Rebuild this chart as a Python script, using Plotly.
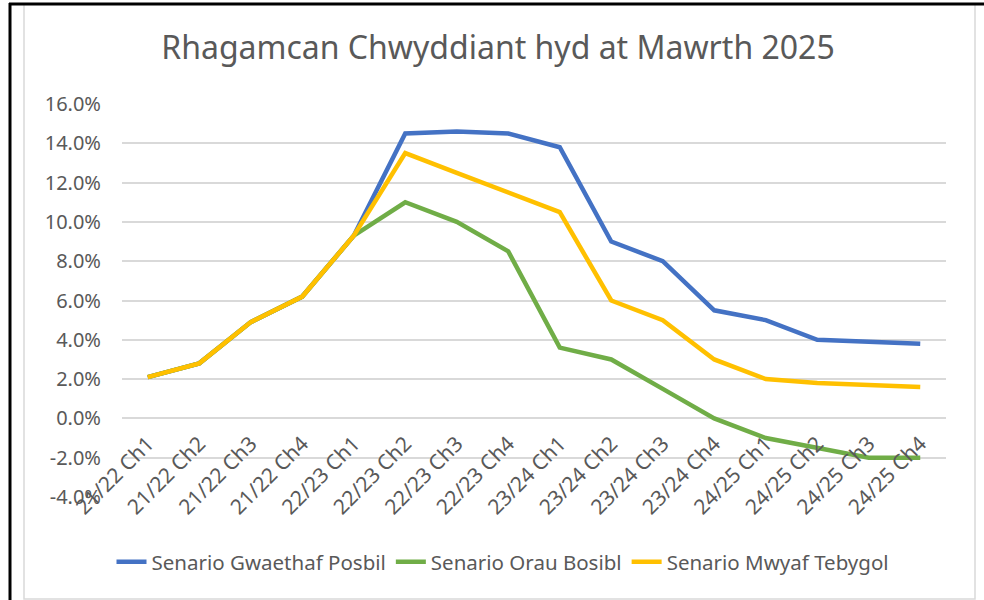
import plotly.graph_objects as go

categories = ["21/22 Ch1", "21/22 Ch2", "21/22 Ch3", "21/22 Ch4",
              "22/23 Ch1", "22/23 Ch2", "22/23 Ch3", "22/23 Ch4",
              "23/24 Ch1", "23/24 Ch2", "23/24 Ch3", "23/24 Ch4",
              "24/25 Ch1", "24/25 Ch2", "24/25 Ch3", "24/25 Ch4"]

gwaethaf = [2.1, 2.8, 4.9, 6.2, 9.3, 14.5, 14.6, 14.5, 13.8, 9.0, 8.0, 5.5, 5.0, 4.0, 3.9, 3.8]
orau = [2.1, 2.8, 4.9, 6.2, 9.3, 11.0, 10.0, 8.5, 3.6, 3.0, 1.5, 0.0, -1.0, -1.5, -2.0, -2.0]
mwyaf = [2.1, 2.8, 4.9, 6.2, 9.3, 13.5, 12.5, 11.5, 10.5, 6.0, 5.0, 3.0, 2.0, 1.8, 1.7, 1.6]

series_names = ["Senario Gwaethaf Posbil", "Senario Orau Bosibl", "Senario Mwyaf Tebygol"]
colors = ["#4472C4", "#70AD47", "#FFC000"]

y_ticks = [16, 14, 12, 10, 8, 6, 4, 2, 0, -2, -4]
y_tick_labels = [f"{v:.1f}%" for v in y_ticks]

title_text = "Rhagamcan Chwyddiant hyd at Mawrth 2025"

W, H = 984, 600
L, R, T, B = 122, 38, 104, 103
pw, ph = W - L - R, H - T - B

def px_x(p):
    return (p - L) / pw

def px_y(p):
    return (H - B - p) / ph

FONT = "Noto Sans, Open Sans, sans-serif"
TXT = "#595959"

fig = go.Figure()
x_idx = list(range(len(categories)))
for name, vals, col in zip(series_names, [gwaethaf, orau, mwyaf], colors):
    fig.add_trace(go.Scatter(
        x=x_idx, y=vals, mode="lines", name=name,
        line=dict(color=col, width=4.5, shape="linear"),
    ))

fig.update_layout(
    width=W, height=H,
    margin=dict(l=L, r=R, t=T, b=B, autoexpand=False),
    paper_bgcolor="white", plot_bgcolor="white",
    font=dict(family=FONT, color=TXT, size=20),
    title=dict(text=title_text, x=498 / W, xanchor="center",
               y=1 - 48 / H, yanchor="middle",
               font=dict(family=FONT, size=32, color=TXT)),
    showlegend=True,
    legend=dict(orientation="h", x=px_x(503), xanchor="center",
                y=px_y(562), yanchor="middle",
                font=dict(family=FONT, size=20.5, color=TXT),
                itemwidth=30, tracegroupgap=0, bgcolor="rgba(0,0,0,0)"),
    xaxis=dict(
        range=[-0.5, len(categories) - 0.5],
        tickmode="array", tickvals=x_idx, ticktext=categories,
        tickangle=-45, showgrid=False, zeroline=False, showline=False,
        anchor="free", position=(0 - (-4)) / 20,
        tickfont=dict(family=FONT, size=21, color=TXT),
        ticks="", ticklabelstandoff=8, fixedrange=True,
    ),
    yaxis=dict(
        range=[-4, 16], tickmode="array", tickvals=y_ticks, ticktext=y_tick_labels,
        showgrid=True, gridcolor="#D9D9D9", gridwidth=1.5,
        zeroline=False, showline=False, ticks="",
        ticklabelstandoff=20,
        tickfont=dict(family=FONT, size=20, color=TXT),
    ),
)

shapes = [
    # light grey chart border
    dict(type="rect", xref="paper", yref="paper",
         x0=px_x(24), x1=px_x(975), y0=px_y(599), y1=px_y(4),
         line=dict(color="#D9D9D9", width=1.5), fillcolor="rgba(0,0,0,0)", layer="below"),
    # black frame (left + top)
    dict(type="line", xref="paper", yref="paper",
         x0=px_x(10), x1=px_x(10), y0=px_y(600), y1=px_y(3),
         line=dict(color="black", width=3)),
    dict(type="line", xref="paper", yref="paper",
         x0=px_x(9), x1=px_x(984), y0=px_y(4), y1=px_y(4),
         line=dict(color="black", width=3)),
]
fig.update_layout(shapes=shapes)

fig.write_html("out.html", config={"displayModeBar": False},
               post_script="document.body.style.margin='0';document.body.style.padding='0';")
